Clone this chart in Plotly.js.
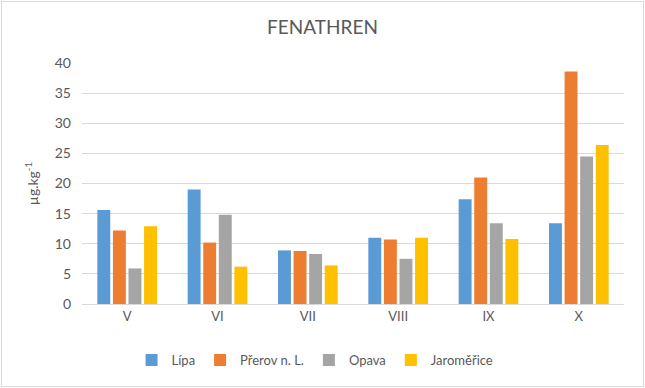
<!DOCTYPE html>
<html>
<head>
<meta charset="utf-8">
<script src="https://cdn.plot.ly/plotly-3.0.1.min.js"></script>
<style>
body{margin:0;padding:0;background:#fff;}
#wrap{position:relative;width:645px;height:388px;}
#chart{width:645px;height:388px;}
#frame{position:absolute;left:1px;top:1px;width:641px;height:384px;border:1px solid #D9D9D9;pointer-events:none;}
</style>
</head>
<body>
<div id="wrap"><div id="chart"></div><div id="frame"></div></div>
<script>
const categories = ["V", "VI", "VII", "VIII", "IX", "X"];
const seriesNames = ["Lípa", "Přerov n. L.", "Opava", "Jaroměřice"];
const lipa = [15.6, 19.0, 8.9, 11.0, 17.4, 13.4];
const prerov = [12.2, 10.2, 8.8, 10.7, 21.0, 38.6];
const opava = [5.9, 14.8, 8.3, 7.5, 13.4, 24.5];
const jaromerice = [12.9, 6.2, 6.4, 11.0, 10.8, 26.4];
const colors = ["#5B9BD5", "#ED7D31", "#A5A5A5", "#FFC000"];
const values = [lipa, prerov, opava, jaromerice];

const traces = values.map((v, i) => ({
  type: "bar",
  name: seriesNames[i],
  x: categories,
  y: v,
  marker: {color: colors[i]},
  hoverinfo: "x+y+name"
}));

const layout = {
  width: 645, height: 388,
  margin: {l: 82, r: 21, t: 63, b: 84},
  paper_bgcolor: "#fff", plot_bgcolor: "#fff",
  font: {family: "Lato, 'Open Sans', sans-serif", color: "#595959", size: 13},
  title: {text: "FENATHREN", x: 0.5, xanchor: "center", y: 0.93, yanchor: "middle",
          font: {size: 19, color: "#595959", family: "Lato, 'Open Sans', sans-serif"}},
  barmode: "group",
  bargap: 0.31,
  bargroupgap: 0.17,
  xaxis: {
    showgrid: false, showline: true, linecolor: "#D9D9D9", linewidth: 1,
    ticks: "", tickfont: {size: 13, color: "#595959"}, zeroline: false
  },
  yaxis: {
    range: [0, 40], dtick: 5, tick0: 0,
    showgrid: true, gridcolor: "#D9D9D9", gridwidth: 1,
    zeroline: false, showline: false, ticks: "",
    tickfont: {size: 14, color: "#595959"},
    ticklabelstandoff: 10,
    title: {text: "µg.kg<sup>-1</sup>", font: {size: 14, color: "#595959"}, standoff: 12}
  },
  legend: {
    orientation: "h", x: 0.43, xanchor: "center", y: -0.17, yanchor: "top",
    font: {size: 13, color: "#595959"}, itemwidth: 30, traceorder: "normal"
  },
  showlegend: true
};

Plotly.newPlot("chart", traces, layout, {displayModeBar: false, staticPlot: true});
</script>
</body>
</html>
